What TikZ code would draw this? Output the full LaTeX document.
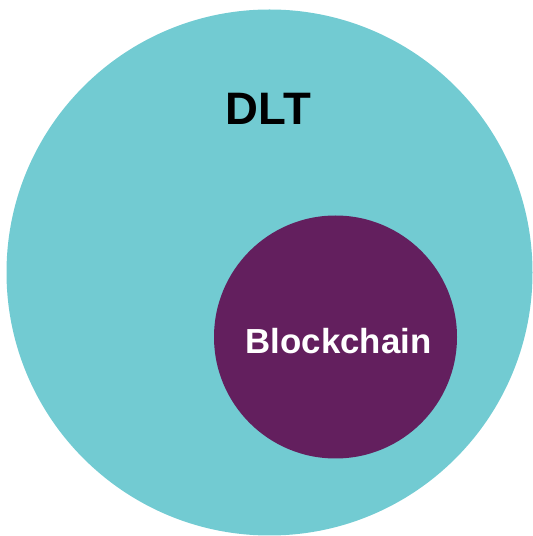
\documentclass[tikz,border=0pt]{standalone}
\usepackage{fontspec}
\setmainfont{Liberation Sans}
\usepackage{xcolor}
\usetikzlibrary{
  positioning,
  backgrounds
}
\definecolor{dltteal}{HTML}{72CBD2}
\definecolor{chainplum}{HTML}{631F5E}
\tikzset{
  line cap=round,
  line join=round,
  setcircle/.style={circle, inner sep=0pt},
  biglabel/.style={font=\fontsize{45.5}{50}\selectfont\bfseries, anchor=base, inner sep=0pt},
  innerlabel/.style={font=\fontsize{34.8}{38}\selectfont\bfseries, anchor=base, inner sep=0pt, text=white}
}

\begin{document}
\begin{tikzpicture}[x=1pt, y=1pt]
  \useasboundingbox (0,0) rectangle (533,536);

  \node[setcircle, fill=dltteal, minimum size=526pt] (dlt) at (269.5,263.5) {};
  \node[setcircle, fill=chainplum, minimum size=243pt] (chain) at (335.5,199) {};

  \node[biglabel] (dltlabel) at (268.5,411) {DLT};
  \node[innerlabel] (chainlabel) at (338.5,182) {Blockchain};
\end{tikzpicture}
\end{document}
